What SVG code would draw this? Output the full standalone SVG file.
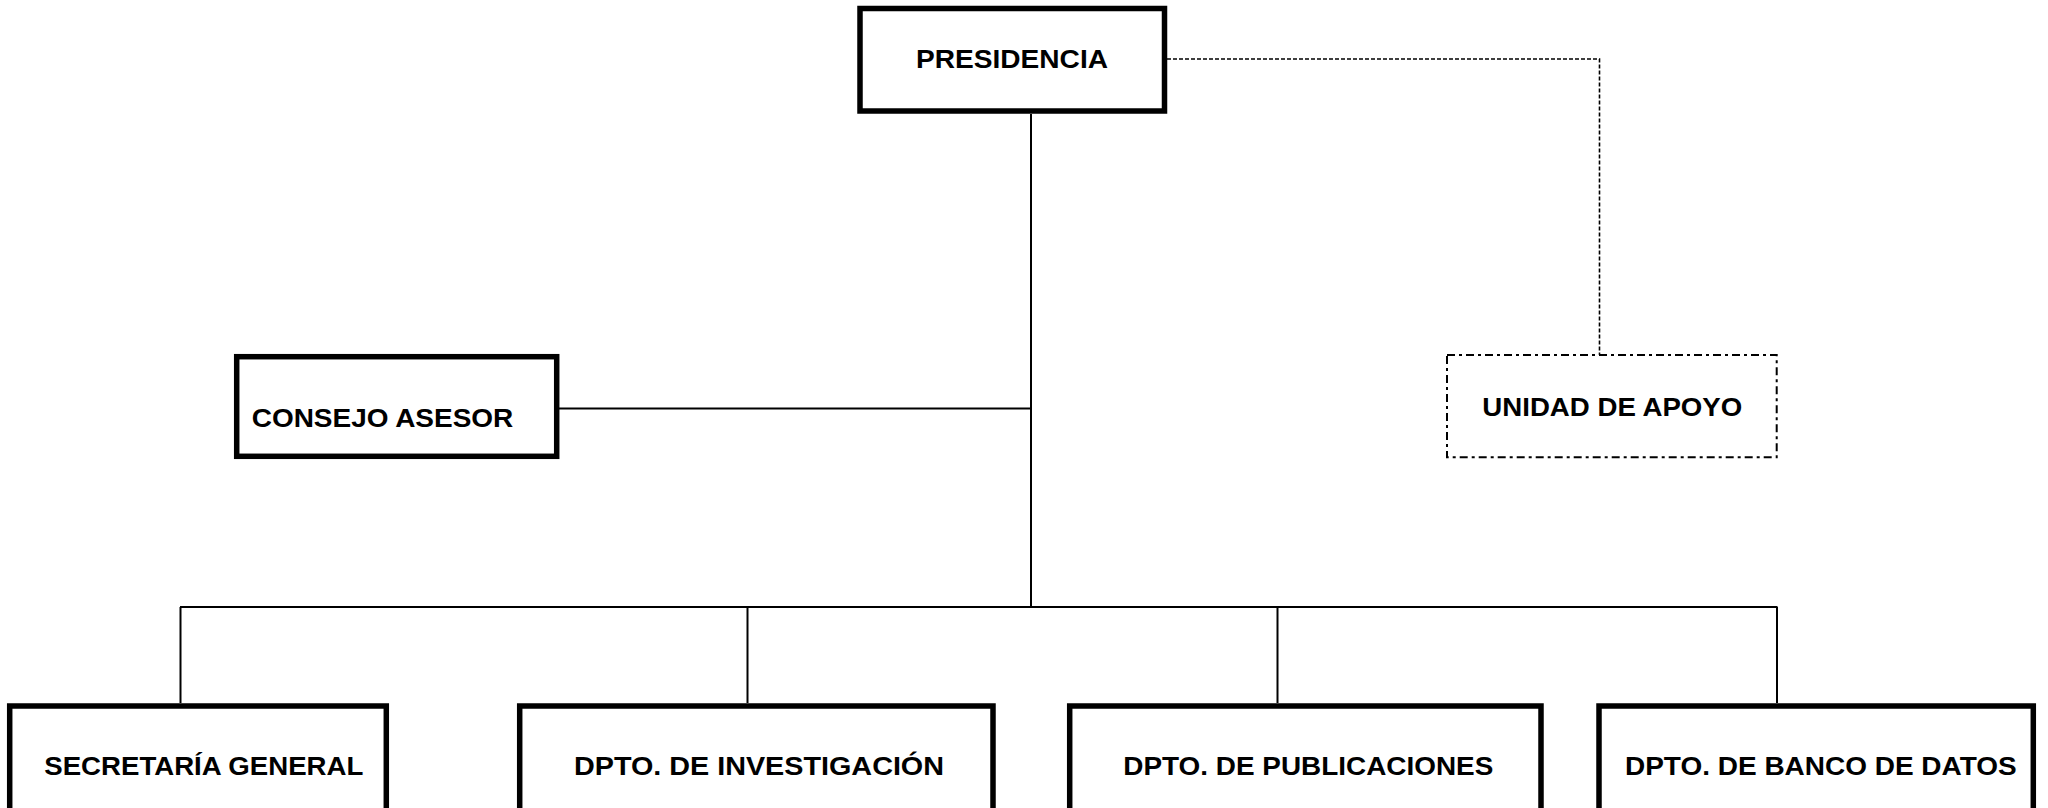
<svg xmlns="http://www.w3.org/2000/svg" width="2048" height="808" viewBox="0 0 2048 808">
<style>
.box{fill:#fff;stroke:#000;stroke-width:5.5}
.dbox{fill:#fff;stroke:#000;stroke-width:2;stroke-dasharray:8 4 3 4}
.ln{fill:none;stroke:#000;stroke-width:2}
.dl{fill:none;stroke:#000;stroke-width:1.6;stroke-dasharray:4 2}
.t{font-family:"Liberation Sans",Arial,sans-serif;font-weight:bold;font-size:26.5px;fill:#000}
</style>
<rect width="2048" height="808" fill="#fff"/>
<g id="connectors">
<path class="ln" d="M1031,114 V607"/>
<path class="ln" d="M559,408.5 H1031"/>
<path class="ln" d="M180,607 H1777.5"/>
<path class="ln" d="M180.5,607 V703"/>
<path class="ln" d="M747.5,607 V703"/>
<path class="ln" d="M1277.5,607 V703"/>
<path class="ln" d="M1777,607 V703"/>
<path class="dl" d="M1167,59 H1599.5 V355"/>
</g>
<g id="presidencia">
<rect class="box" x="860" y="8.5" width="304.5" height="102.5"/>
<text class="t" x="916" y="67.5" textLength="192" lengthAdjust="spacingAndGlyphs">PRESIDENCIA</text>
</g>
<g id="consejo-asesor">
<rect class="box" x="236.7" y="356.7" width="320" height="99.6"/>
<text class="t" x="251.7" y="426.7" textLength="261.6" lengthAdjust="spacingAndGlyphs">CONSEJO ASESOR</text>
</g>
<g id="unidad-de-apoyo">
<rect class="dbox" x="1447" y="355" width="329.7" height="102.3"/>
<text class="t" x="1482.3" y="416" textLength="260" lengthAdjust="spacingAndGlyphs">UNIDAD DE APOYO</text>
</g>
<g id="secretaria-general">
<rect class="box" x="9.7" y="706" width="376.6" height="105"/>
<text class="t" x="44.3" y="775" textLength="319" lengthAdjust="spacingAndGlyphs">SECRETARÍA GENERAL</text>
</g>
<g id="dpto-investigacion">
<rect class="box" x="519.7" y="706" width="473.3" height="105"/>
<text class="t" x="574" y="775" textLength="370" lengthAdjust="spacingAndGlyphs">DPTO. DE INVESTIGACIÓN</text>
</g>
<g id="dpto-publicaciones">
<rect class="box" x="1069.7" y="706" width="471.3" height="105"/>
<text class="t" x="1123.3" y="775" textLength="370" lengthAdjust="spacingAndGlyphs">DPTO. DE PUBLICACIONES</text>
</g>
<g id="dpto-banco-datos">
<rect class="box" x="1599" y="706" width="434.3" height="105"/>
<text class="t" x="1625" y="775" textLength="391.7" lengthAdjust="spacingAndGlyphs">DPTO. DE BANCO DE DATOS</text>
</g>
</svg>
